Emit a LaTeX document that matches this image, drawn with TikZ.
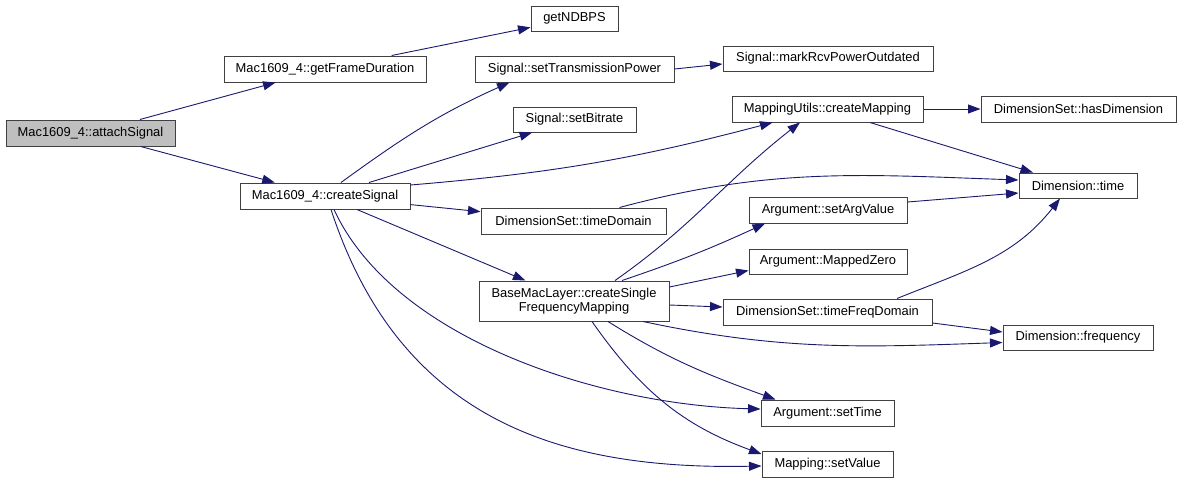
\documentclass[tikz,border=0pt]{standalone}
\usepackage{fontspec}
\setmainfont{Liberation Sans}
\usetikzlibrary{arrows.meta}

\definecolor{edgeblue}{HTML}{191970}
\definecolor{curgray}{HTML}{BFBFBF}

\begin{document}
\begin{tikzpicture}[
  x=1pt,y=1pt,
  font=\fontsize{12.9}{14.5}\selectfont,
  >={Triangle[length=12.5pt,width=9pt]},
  fn/.style={draw=black!75,line width=1pt,fill=white,align=center,inner sep=0pt,
             minimum height=26pt,minimum width=#1},
  cur/.style={fn=#1,fill=curgray},
  call/.style={->,draw=edgeblue,line width=0.9pt},
]
\useasboundingbox[fill=white] (0,0) rectangle (1181,-483);

% ---- callers ----
\node[cur=169pt] (AS) at (90.5,-133) {Mac1609\_4::attachSignal};
\node[fn=202pt] (FD) at (325,-69) {Mac1609\_4::getFrameDuration};
\node[fn=170pt] (CS) at (325,-196) {Mac1609\_4::createSignal};

% ---- middle column ----
\node[fn=87pt,minimum height=25pt] (NB) at (574.5,-18.5) {getNDBPS};
\node[fn=199pt] (TP) at (574.5,-69) {Signal::setTransmissionPower};
\node[fn=123pt,minimum height=25pt] (SB) at (574.5,-119.5) {Signal::setBitrate};
\node[fn=185pt] (TD) at (573.5,-221) {DimensionSet::timeDomain};
\node[fn=190pt,minimum height=40pt] (SF) at (574,-301)
  {BaseMacLayer::createSingle\\FrequencyMapping};

% ---- right columns ----
\node[fn=210pt,minimum height=25pt] (MR) at (828,-58.5) {Signal::markRcvPowerOutdated};
\node[fn=191pt] (CM) at (827.5,-109) {MappingUtils::createMapping};
\node[fn=158pt] (AV) at (828,-210) {Argument::setArgValue};
\node[fn=158pt,minimum height=25pt] (MZ) at (828,-261.5) {Argument::MappedZero};
\node[fn=209pt] (TF) at (827.5,-312) {DimensionSet::timeFreqDomain};
\node[fn=133pt] (ST) at (827.5,-413) {Argument::setTime};
\node[fn=131pt] (SV) at (827.5,-464) {Mapping::setValue};
\node[fn=195pt] (HD) at (1078.5,-109) {DimensionSet::hasDimension};
\node[fn=118pt,minimum height=25pt] (DT) at (1078,-185.5) {Dimension::time};
\node[fn=150pt,minimum height=25pt] (FQ) at (1078,-337.5) {Dimension::frequency};

% ---- calls ----
\draw[call] (AS) -- (FD);
\draw[call] (AS) -- (CS);
\draw[call] (FD) -- (NB);
\draw[call] ([xshift=16pt]CS.north) to[out=36,in=204] ([xshift=-65pt]TP.south);
\draw[call] (CS) -- (SB);
\draw[call] ([yshift=11pt]CS.east) to[bend right=5] ([xshift=-55pt]CM.south);
\draw[call] (CS) -- (TD);
\draw[call] (CS) -- (SF);
\draw[call] ([xshift=9pt]CS.south) .. controls +(60,-130) and +(-160,4) .. ([yshift=4pt]ST.west);
\draw[call] ([xshift=6pt]CS.south) .. controls +(69,-211) and +(-202,-4) .. ([yshift=-2pt]SV.west);
\draw[call] (TP.east) -- ([yshift=-5.5pt]MR.west);
\draw[call] (CM) -- (HD);
\draw[call] ([xshift=42.5pt]CM.south) -- ([xshift=-45pt]DT.north);
\draw[call] ([xshift=46pt]TD.north) to[out=15,in=178] ([yshift=5.5pt]DT.west);
\draw[call] ([yshift=8pt]AV.east) -- ([yshift=-7.5pt]DT.west);
\draw[call] ([xshift=41pt]SF.north) to[out=35,in=-142] ([xshift=-27.5pt]CM.south);
\draw[call] ([xshift=48pt]SF.north) to[bend right=3] ([xshift=-63pt]AV.south);
\draw[call] ([yshift=14pt]SF.east) -- ([yshift=-9pt]MZ.west);
\draw[call] ([yshift=-4pt]SF.east) -- ([yshift=5pt]TF.west);
\draw[call] ([xshift=69pt]SF.south) to[out=-12,in=182] ([yshift=-5pt]FQ.west);
\draw[call] ([xshift=34pt]SF.south) to[out=-32,in=160] ([xshift=-52pt]ST.north);
\draw[call] ([xshift=18pt]SF.south) to[out=-55,in=160] ([yshift=10pt]SV.west);
\draw[call] ([xshift=69.5pt]TF.north) to[out=22,in=-128] ([xshift=-18pt]DT.south);
\draw[call] ([yshift=-11pt]TF.east) -- ([yshift=5.5pt]FQ.west);
\end{tikzpicture}
\end{document}
